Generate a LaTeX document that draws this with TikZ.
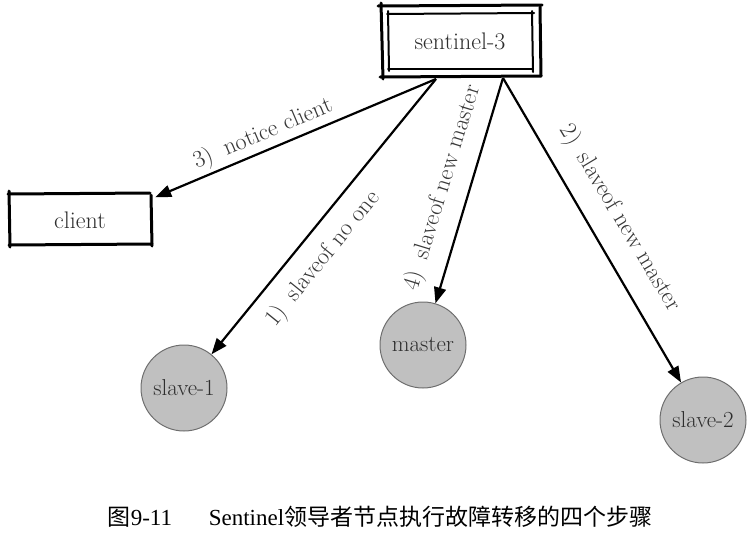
\documentclass[tikz,border=0pt]{standalone}
\usepackage{fontspec}
\usetikzlibrary{arrows.meta,calc}
\newfontfamily\cjkfont{Noto Sans CJK SC}
\newfontfamily\capfont{Liberation Serif}
\definecolor{nodegray}{RGB}{192,192,192}
\definecolor{edgegray}{RGB}{110,110,110}
\begin{document}
\begin{tikzpicture}[x=1pt,y=-1pt,
  txt/.style={font=\fontsize{24}{28}\selectfont, text=black!82},
  lbl/.style={font=\fontsize{24}{28}\selectfont, text=black!78, inner sep=0pt},
  roundnode/.style={circle, draw=edgegray, line width=1pt, fill=nodegray, minimum size=86pt, inner sep=0pt, font=\fontsize{23}{27}\selectfont, text=black!82},
  sketch/.style={line width=3pt, line cap=round},
  sketchthin/.style={line width=2pt, line cap=round},
  arr/.style={line width=2.2pt, -{Triangle[length=16pt,width=12pt]}}
]
\useasboundingbox (0,0) rectangle (752,533);
% sentinel-3 box
\node[txt, minimum width=140pt, minimum height=54pt] (s3) at (460,41) {sentinel-3};
\draw[sketch] (378,6) -- (542,5);
\draw[sketch] (380,77) -- (541,76);
\draw[sketch] (381,3) -- (383,79);
\draw[sketch] (540,7) -- (541,76);
\draw[sketchthin] (387,14) -- (534,13);
\draw[sketchthin] (388,69) -- (533,69);
\draw[sketchthin] (388,11) -- (389,71);
\draw[sketchthin] (532,11) -- (533,72);
\coordinate (sL) at (436,79);
\coordinate (sR) at (503,78);
% client box
\node[txt, minimum width=144pt, minimum height=51pt] (client) at (80,220) {client};
\draw[sketch] (8,194) -- (150,193);
\draw[sketch] (9,245) -- (152,244);
\draw[sketch] (9,191) -- (10,247);
\draw[sketch] (151,195) -- (152,246);
% circles
\node[roundnode] (slave1) at (184,388) {slave-1};
\node[roundnode] (master) at (423,345) {master};
\node[roundnode] (slave2) at (703,420) {slave-2};
% arrows
\draw[arr] (sL) -- ($(client.north east)+(3,3)$);
\draw[arr] (sL) -- (slave1);
\draw[arr] (sR) -- (master);
\draw[arr] (sR) -- (slave2);
% labels
\node[lbl, rotate=23] (l3) at (263,134) {3)\hspace{0.55em}notice client};
\node[lbl, rotate=51] (l1) at (323,259) {1)\hspace{0.55em}slaveof no one};
\node[lbl, rotate=73] (l4) at (443,188) {4)\hspace{0.55em}slaveof new master};
\node[lbl, rotate=-59] (l2) at (620,218) {2)\hspace{0.55em}slaveof new master};
% caption
\node[font=\fontsize{23}{27}\selectfont, inner sep=0pt] (cap) at (380,517) {\cjkfont 图\capfont 9-11\hspace{1.6em}Sentinel\cjkfont 领导者节点执行故障转移的四个步骤};
\end{tikzpicture}
\end{document}
